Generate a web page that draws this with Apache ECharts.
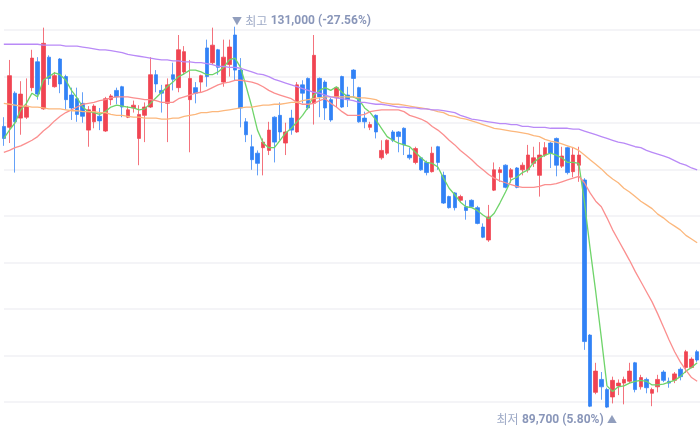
<!DOCTYPE html>
<html>
<head>
<meta charset="utf-8">
<script src="https://cdn.jsdelivr.net/npm/echarts@6/dist/echarts.min.js"></script>
<style>
html, body { margin: 0; padding: 0; background: #fff; }
#main { width: 700px; height: 439px; }
</style>
</head>
<body>
<div id="main"></div>
<script>
// daily OHLC, won
var opens = [
	120200,120100,123800,121100,121200,124400,127200,122100,127700,124500,
	127500,125600,123600,123200,122700,119800,120700,121300,119700,123100,
	124100,124500,121200,122200,118900,121400,122300,125800,124100,122700,
	125800,124400,126100,123100,124400,125000,128700,127100,128500,125000,
	126900,130100,126300,120700,118000,117300,117900,117600,121200,121400,
	118400,121100,119600,124700,125400,122700,125400,125000,123100,123300,
	125600,123600,126300,124400,121100,120100,121400,116800,117300,119600,
	119600,120000,117100,116300,116800,116300,115300,118000,114900,112600,
	113000,112200,111500,112200,111400,109300,107900,113300,115200,116000,
	114700,115700,115500,115500,116200,114900,117100,118400,118900,115900,
	117900,115300,116000,114400,97600,91400,92800,91700,90900,92100,
	92400,92600,94600,92000,92800,91300,92000,93600,92600,92700,
	93900,94100,94100,95800
];
var closes = [
	118900,125700,120700,123700,122400,127600,123700,129200,125400,125700,
	124800,123100,122200,121500,121300,122000,122400,120800,123200,123500,
	123400,122300,122000,122500,121500,122300,125800,124800,123800,124700,
	125300,128500,128300,125400,123800,125700,125600,129000,126600,127700,
	128800,126300,122200,119300,116600,116200,118500,119800,118500,119600,
	119600,119800,124700,123800,122200,127900,123400,122200,120900,124400,
	122300,123100,125400,120700,120700,120400,119600,117600,118700,118700,
	119100,118200,116800,117800,115500,115200,117300,116300,111900,111400,
	111400,112600,111100,111500,109700,108200,110400,115500,115500,113600,
	115500,113600,116000,117100,116800,117100,117900,117300,116000,117000,
	115200,117100,117100,96900,89900,93700,92000,89800,92700,92400,
	92800,93700,91700,93000,91900,91700,92800,92700,92400,93400,
	93100,95800,95000,94900
];
var lows = [
	118100,118400,115200,119300,121000,124000,123100,122000,124700,124400,
	123800,122000,120900,120700,120600,118000,120000,119800,119600,122500,
	122600,121200,121100,121700,116000,118500,122200,123900,121700,118500,
	124100,123900,125800,117400,122700,123900,124500,126900,125800,124500,
	125600,125200,120100,118500,115500,114900,114900,117100,116300,118700,
	117100,119300,119500,122700,122000,120400,121200,120900,120700,122300,
	122200,122300,123300,120600,120000,119800,118900,116600,117100,118500,
	117400,117100,116600,116100,115400,114900,115200,115500,111800,111300,
	111100,112000,110100,111400,109600,108100,107700,113200,114200,113500,
	114100,113500,114900,115200,115800,112600,116900,115700,114800,115700,
	115000,114700,114200,96000,89800,91200,90600,89700,90200,91100,
	90100,92400,91400,91700,91300,89900,91400,92500,91900,92400,
	92700,93500,94000,94700
];
var highs = [
	121200,127400,124000,125100,125400,128500,127700,130900,127900,126100,
	127600,125800,124400,124400,123900,122400,122600,122200,123400,123700,
	124400,124600,122400,123000,122500,122800,127700,126300,124700,125400,
	127100,130100,128900,127400,125000,125800,129600,130900,128600,129600,
	129600,131000,127600,121100,119300,117600,118900,120700,121300,122800,
	120600,122000,125000,125200,125500,130100,125500,125200,123300,124500,
	125700,124500,126400,124500,121800,120700,121500,118700,118800,119800,
	119700,120100,117900,118000,116900,116500,118000,118100,115300,112700,
	113100,112800,112200,112300,111600,109700,111700,116300,115800,116100,
	115700,115800,116300,118200,118000,118500,118500,118500,119000,118000,
	118000,117900,118000,114600,97700,94600,93600,91900,93100,92800,
	93100,94600,94700,93300,93000,91900,93300,93800,93000,93600,
	94100,96000,95200,96000
];

// moving averages as drawn on the chart
var ma5 = [
	118900,119800,120600,122000,122700,123800,123400,125200,125600,126000,
	125800,125200,124100,123300,122300,121800,121700,121500,121800,122300,
	122500,122400,122300,122200,122000,122100,122700,123300,123900,124500,
	125000,125600,125900,126300,126300,126100,125800,125800,126100,126600,
	127400,127600,126600,124500,122300,119800,118400,117900,117900,118700,
	119500,120000,120700,121400,122300,123600,124100,124400,124100,124500,
	123900,123400,123400,123100,122200,121700,120900,120000,119100,118700,
	118400,118200,118000,117400,116800,116300,116200,115800,114600,113500,
	112800,112000,111500,111400,111100,110600,110200,110800,111900,113100,
	114400,114700,115200,115500,116300,116800,117100,117300,117100,116800,
	116300,116300,116200,112000,107000,102300,97300,92100,91500,92000,
	92100,92400,92600,92700,92600,92200,92200,92300,92500,92700,
	93100,93700,94100,94600
];
var ma20 = [
	117400,117600,117900,118100,118400,118700,119100,119700,120200,120800,
	121300,121700,122000,122300,122600,122700,122800,123000,123100,123300,
	123400,123400,123400,123300,123200,123100,123100,123000,122800,122800,
	122800,123200,123400,123600,123800,123900,124100,124400,124700,124900,
	125000,125200,125200,125100,125000,124800,124500,124100,123800,123600,
	123400,123200,122800,122600,122600,122700,123000,123200,122700,122300,
	121800,121400,121400,121400,121500,121800,121900,122000,122000,122000,
	122000,121800,121400,121200,121000,120700,120200,119800,119300,118700,
	118200,117600,117100,116600,116000,115500,115000,114600,114300,114100,
	113900,113700,113600,113600,113600,113700,113900,113900,114000,114200,
	114400,114600,114800,114100,113000,112100,111500,110300,109000,107900,
	106800,105700,104500,103400,102300,101200,99900,98500,97100,95800,
	94700,93800,93000,92600
];
var ma60 = [
	122700,122600,122500,122400,122400,122300,122300,122200,122100,122100,
	122100,122000,121900,121900,121800,121800,121800,121700,121700,121500,
	121400,121400,121300,121200,121200,121100,121100,121100,121000,121000,
	121100,121100,121300,121400,121500,121700,121700,121800,121800,121900,
	122000,122100,122200,122300,122300,122400,122500,122500,122600,122600,
	122700,122800,122800,123000,123100,123200,123300,123400,123400,123400,
	123400,123400,123400,123300,123300,123200,123100,122800,122700,122600,
	122600,122500,122400,122300,122200,122100,122000,121800,121700,121400,
	121300,121100,121000,120800,120600,120400,120200,120000,119900,119800,
	119700,119600,119500,119400,119200,119100,118800,118600,118500,118300,
	118100,117900,117600,117100,116600,116100,115600,115000,114500,114100,
	113500,113100,112600,112100,111700,111300,110700,110300,109800,109400,
	109000,108400,108000,107600
];
var ma120 = [
	129100,129100,129100,129100,129100,129100,129100,129000,129000,129000,
	129000,128900,128900,128900,128800,128700,128600,128500,128500,128400,
	128300,128200,128000,127900,127800,127700,127600,127500,127400,127400,
	127300,127300,127200,127200,127100,127100,127000,126900,126700,126700,
	126600,126600,126500,126300,126100,125900,125800,125600,125300,125100,
	124900,124700,124500,124300,124100,123900,123800,123600,123400,123300,
	123200,123100,123000,122800,122800,122700,122600,122600,122500,122400,
	122300,122300,122200,122200,122100,122100,122000,122000,121900,121800,
	121700,121400,121200,121000,120900,120800,120700,120600,120500,120500,
	120400,120400,120200,120200,120100,120100,120100,120000,120000,120000,
	120000,119900,119900,119700,119500,119300,119100,118900,118700,118500,
	118400,118200,118000,117900,117600,117400,117200,117000,116800,116500,
	116200,116000,115700,115500
];

var highText = '131,000 (-27.56%)';
var lowText = '89,700 (5.80%)';

var days = opens.map(function (v, i) { return 'D' + (i + 1); });
var candles = opens.map(function (o, i) {
	return [o, closes[i], lows[i], highs[i]];
});

var maxHigh = Math.max.apply(null, highs);
var minLow = Math.min.apply(null, lows);
var maxIdx = highs.indexOf(maxHigh);
var minIdx = lows.indexOf(minLow);

var upColor = '#f04452';
var downColor = '#3182f6';
var krFont = '"Noto Sans CJK KR", "Noto Sans", sans-serif';
var numFont = 'Roboto, "Noto Sans", sans-serif';

var chart = echarts.init(document.getElementById('main'));

function maLine(name, data, color) {
	return {
		name: name,
		type: 'line',
		data: data,
		symbol: 'none',
		clip: false,
		z: 3,
		lineStyle: { color: color, width: 1.3 },
		silent: true
	};
}

var richStyle = {
	t: { color: '#7586ad', fontSize: 10, fontFamily: krFont },
	k: { color: '#8593b8', fontSize: 12, fontFamily: krFont },
	v: { color: '#6b7ca8', fontSize: 12, fontWeight: 'bold', fontFamily: numFont }
};

var option = {
	backgroundColor: '#fff',
	animation: false,
	grid: [
		{ left: 1, top: 30, width: 703.3, height: 372 },
		{ left: 4, top: 30, right: 0, height: 372 }
	],
	xAxis: [
		{ type: 'category', data: days, show: false, gridIndex: 0 },
		{ type: 'value', min: 0, max: 1, show: false, gridIndex: 1 }
	],
	yAxis: [
		{ type: 'value', min: 90355, max: 130643, show: false, gridIndex: 0 },
		{
			type: 'value', min: 0, max: 8, interval: 1, gridIndex: 1,
			axisLine: { show: false },
			axisTick: { show: false },
			axisLabel: { show: false },
			splitLine: { lineStyle: { color: '#f0f1f4', width: 1.5 } }
		}
	],
	series: [
		{
			type: 'candlestick',
			data: candles,
			clip: false,
			barWidth: 4,
			z: 2,
			itemStyle: {
				color: upColor,
				color0: downColor,
				borderColor: 'rgba(240,68,82,0.75)',
				borderColor0: 'rgba(49,130,246,0.75)',
				borderWidth: 1
			}
		},
		maLine('MA5', ma5, '#6fd46a'),
		maLine('MA20', ma20, '#fb8f8f'),
		maLine('MA60', ma60, '#fcb77c'),
		maLine('MA120', ma120, '#b98af7'),
		{
			// high / low annotations
			type: 'scatter',
			silent: true,
			clip: false,
			z: 5,
			symbolSize: 1,
			itemStyle: { color: 'rgba(0,0,0,0)' },
			data: [
				{
					value: [days[maxIdx], maxHigh],
					label: {
						show: true,
						position: 'top',
						distance: 0,
						align: 'left',
						offset: [-3, 1],
						formatter: '{t|▼} {k|최고} {v|' + highText + '}',
						rich: richStyle
					}
				},
				{
					value: [days[minIdx], minLow],
					label: {
						show: true,
						position: 'bottom',
						distance: 5,
						align: 'right',
						offset: [10, 0],
						formatter: '{k|최저} {v|' + lowText + '} {t|▲}',
						rich: richStyle
					}
				}
			]
		}
	]
};

chart.setOption(option);
</script>
</body>
</html>
